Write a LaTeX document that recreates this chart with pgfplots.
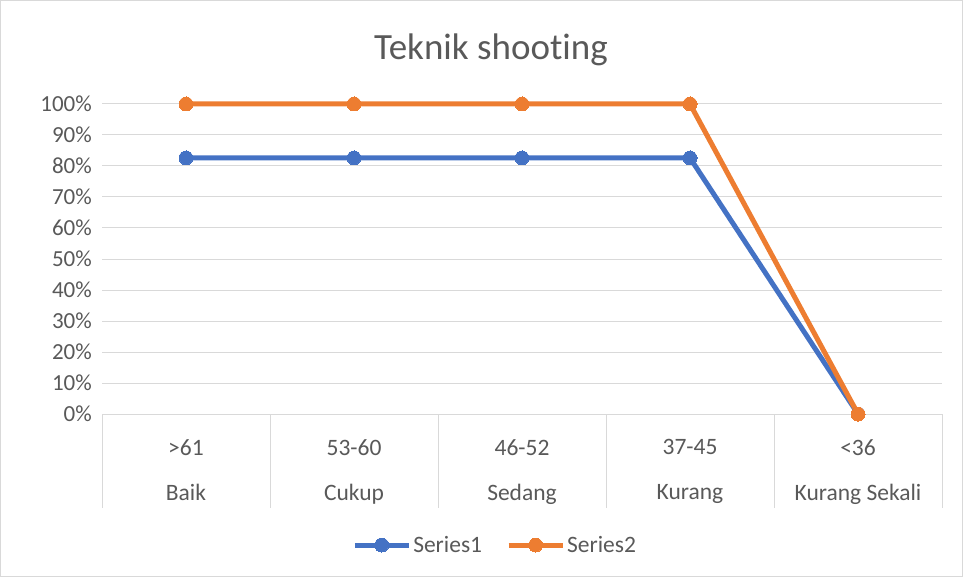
\documentclass[border=0pt]{standalone}
\usepackage{pgfplots}
\pgfplotsset{compat=1.18}
\usepackage{fontspec}
\setmainfont{Carlito}[Ligatures=NoCommon]
\definecolor{s1}{HTML}{4472C4}
\definecolor{s2}{HTML}{ED7D31}
\definecolor{gridgray}{HTML}{D9D9D9}
\definecolor{txt}{HTML}{595959}
\begin{document}
\begin{tikzpicture}
\begin{axis}[
  scale only axis, width=840pt, height=310pt,
  xmin=-0.5, xmax=4.5, ymin=0, ymax=100,
  clip=false,
  axis line style={draw=none},
  xtick={0,1,2,3,4},
  xticklabels={{>61\\[17.8pt]Baik},{53-60\\[17.8pt]Cukup},{46-52\\[17.8pt]Sedang},{37-45\\[17.8pt]Kurang},{<36\\[17.8pt]Kurang Sekali}},
  xticklabel style={align=center, anchor=north, inner sep=0pt, yshift=-25pt, font=\fontsize{23.5}{27.2}\selectfont, text=txt},
  ytick={0,10,...,100},
  yticklabel={\pgfmathprintnumber{\tick}\%},
  yticklabel style={anchor=east, inner sep=0pt, xshift=-10pt, font=\fontsize{23}{27}\selectfont, text=txt},
  /pgf/number format/assume math mode=true,
  major tick length=0pt,
  ymajorgrids, grid style={gridgray, line width=1pt},
  legend style={at={(0.468,-0.4226)}, anchor=center, draw=none, fill=none, legend columns=2,
    font=\fontsize{23.5}{27}\selectfont, text=txt,
    /tikz/every even column/.append style={column sep=22pt}},
  legend image code/.code={\draw[#1, mark repeat=2, mark phase=2] plot coordinates {(0pt,0pt) (27pt,0pt) (54pt,0pt)};},
]
\addplot[s1, line width=5pt, mark=*, mark size=7pt, mark options={fill=s1, draw=s1, line width=0pt}]
  coordinates {(0,82.6) (1,82.6) (2,82.6) (3,82.6) (4,0)};
\addlegendentry{Series1}
\addplot[s2, line width=5pt, mark=*, mark size=7pt, mark options={fill=s2, draw=s2, line width=0pt}]
  coordinates {(0,100) (1,100) (2,100) (3,100) (4,0)};
\addlegendentry{Series2}
\draw[gridgray, line width=1pt] (axis cs:-0.5,0) -- ++(0pt,-94pt);
\draw[gridgray, line width=1pt] (axis cs:0.5,0) -- ++(0pt,-94pt);
\draw[gridgray, line width=1pt] (axis cs:1.5,0) -- ++(0pt,-94pt);
\draw[gridgray, line width=1pt] (axis cs:2.5,0) -- ++(0pt,-94pt);
\draw[gridgray, line width=1pt] (axis cs:3.5,0) -- ++(0pt,-94pt);
\draw[gridgray, line width=1pt] (axis cs:4.5,0) -- ++(0pt,-94pt);
\node[font=\fontsize{37}{44}\selectfont, text=txt] at (rel axis cs:0.463,1.174) {Teknik shooting};
\coordinate (bbSW) at (rel axis cs:-0.121429,-0.525806);
\coordinate (bbNE) at (rel axis cs:1.025,1.335484);
\end{axis}
\draw[gridgray, line width=1pt] ([shift={(0.5pt,0.5pt)}]bbSW) rectangle ([shift={(-0.5pt,-0.5pt)}]bbNE);
\useasboundingbox (bbSW) rectangle (bbNE);
\end{tikzpicture}
\end{document}
